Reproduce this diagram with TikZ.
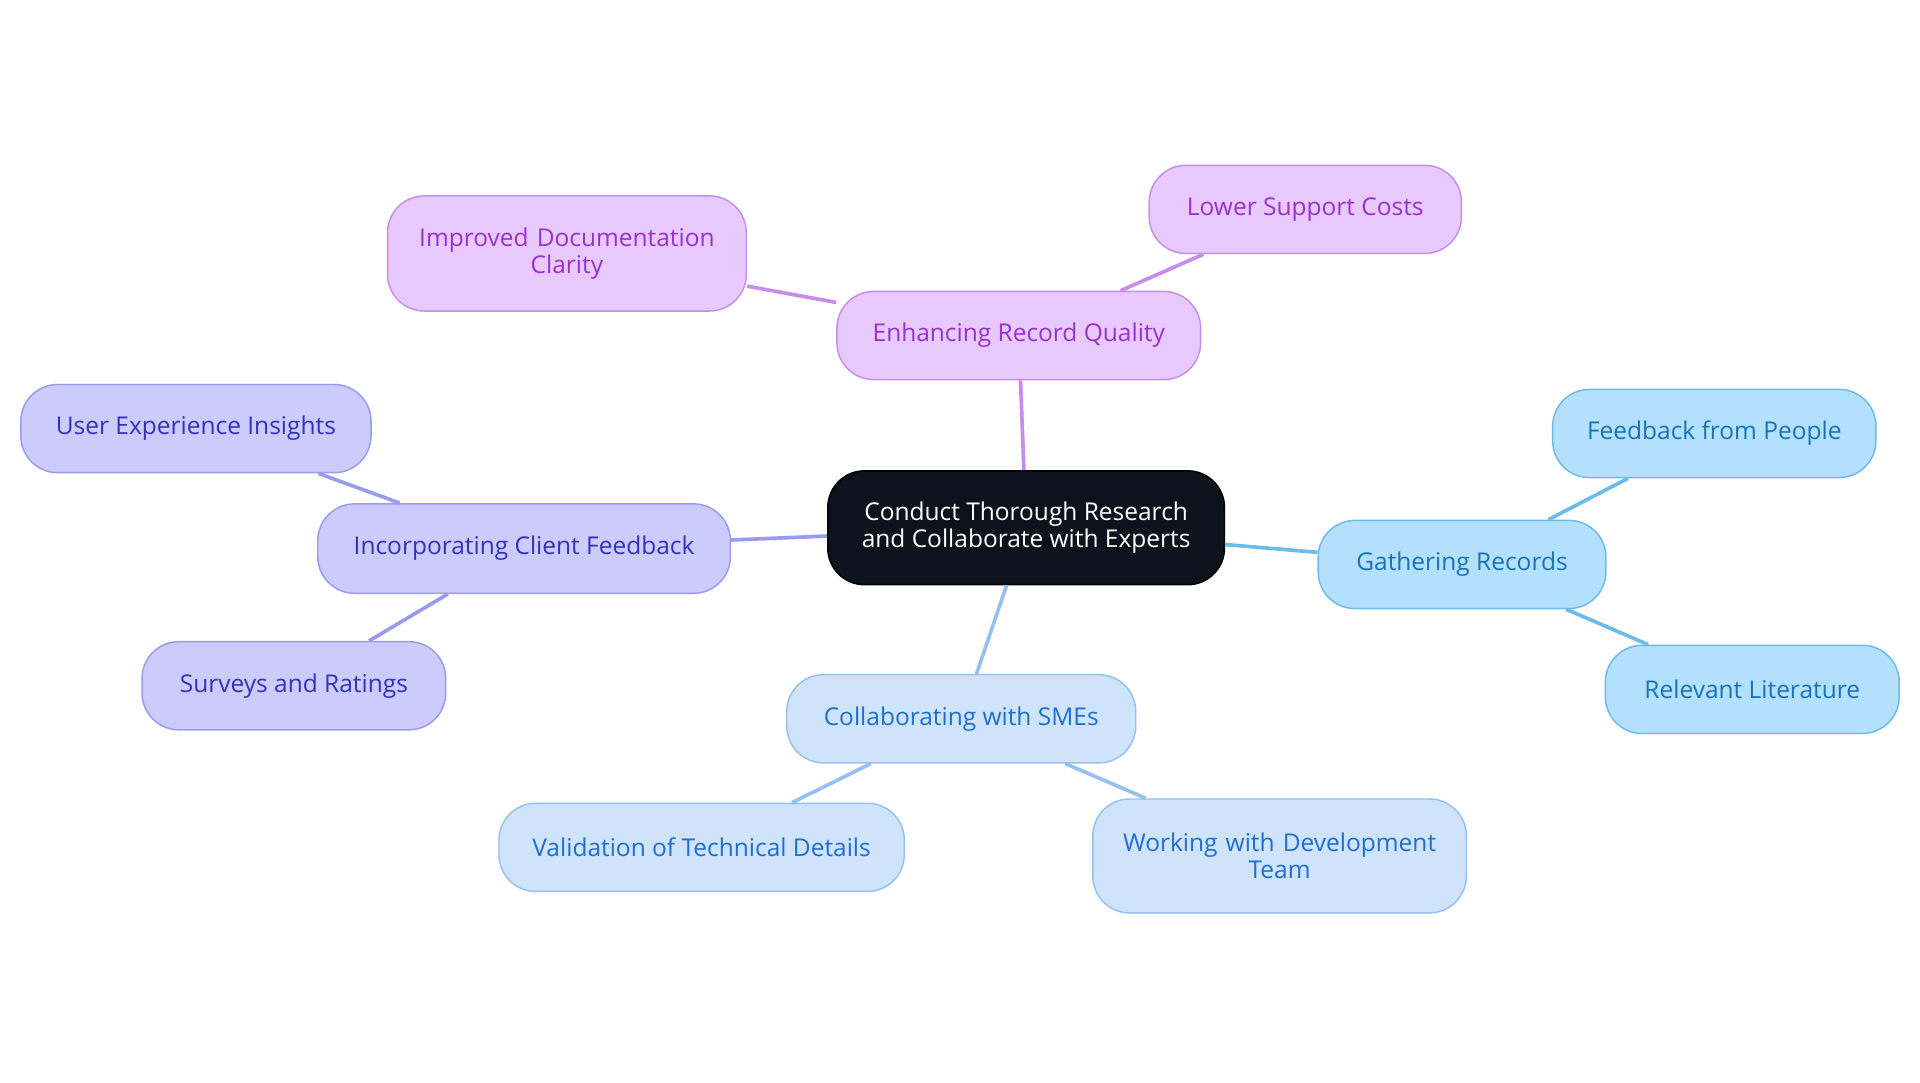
\documentclass[tikz,border=0pt]{standalone}
\usepackage{fontspec}
\setmainfont{Open Sans}
\begin{document}
\begin{tikzpicture}[x=0.5pt,y=-0.5pt,
 box/.style={rounded corners=15pt,draw,line width=0.6pt,align=center,font=\fontsize{10}{11}\selectfont,inner sep=0pt},
 pu/.style={box,fill=pfill,draw=pdraw,text=ptext},
 vi/.style={box,fill=vfill,draw=vdraw,text=vtext},
 cy/.style={box,fill=cfill,draw=cdraw,text=ctext},
 bl/.style={box,fill=bfill,draw=bdraw,text=btext},
 ln/.style={line width=1.5pt}]
\definecolor{pfill}{HTML}{E8C9FD}\definecolor{pdraw}{HTML}{C68DEB}\definecolor{ptext}{HTML}{9A30D0}
\definecolor{vfill}{HTML}{CBCBFC}\definecolor{vdraw}{HTML}{9A9AEE}\definecolor{vtext}{HTML}{3333BB}
\definecolor{cfill}{HTML}{B3E0FC}\definecolor{cdraw}{HTML}{6BBBEB}\definecolor{ctext}{HTML}{1A73B8}
\definecolor{bfill}{HTML}{CFE3FB}\definecolor{bdraw}{HTML}{94C1F0}\definecolor{btext}{HTML}{1F6FD0}
\useasboundingbox (0,0) rectangle (1568,884);
\node[box,fill={rgb,255:red,13;green,19;blue,28},text=white,minimum width=162pt,minimum height=46.5pt] (c) at (838,431) {Conduct Thorough Research\\and Collaborate with Experts};
\node[pu,minimum width=148.5pt,minimum height=36pt] (e) at (832,274) {Enhancing Record Quality};
\node[pu,minimum width=146.5pt,minimum height=47pt,text width=130pt] (e1) at (463,207) {Improved Documentation\\Clarity};
\node[pu,minimum width=127.5pt,minimum height=36pt] (e2) at (1066,171) {Lower Support Costs};
\node[vi,minimum width=168.5pt,minimum height=36.5pt] (i) at (428,448) {Incorporating Client Feedback};
\node[vi,minimum width=143pt,minimum height=36pt] (i1) at (160,350) {User Experience Insights};
\node[vi,minimum width=124pt,minimum height=36pt] (i2) at (240,560) {Surveys and Ratings};
\node[cy,minimum width=117.5pt,minimum height=36pt] (g) at (1194,461) {Gathering Records};
\node[cy,minimum width=132pt,minimum height=36pt] (g1) at (1400,354) {Feedback from People};
\node[cy,minimum width=120pt,minimum height=36pt] (g2) at (1431,563) {Relevant Literature};
\node[bl,minimum width=142.5pt,minimum height=36pt] (s) at (785,587) {Collaborating with SMEs};
\node[bl,minimum width=165.5pt,minimum height=36pt] (s1) at (573,692) {Validation of Technical Details};
\node[bl,minimum width=152.5pt,minimum height=46.5pt,text width=140pt] (s2) at (1045,699) {Working with Development\\Team};
\draw[ln,draw=pdraw] (c) -- (e); \draw[ln,draw=pdraw] (e) -- (e1); \draw[ln,draw=pdraw] (e) -- (e2);
\draw[ln,draw=vdraw] (c) -- (i); \draw[ln,draw=vdraw] (i) -- (i1); \draw[ln,draw=vdraw] (i) -- (i2);
\draw[ln,draw=cdraw] (c) -- (g); \draw[ln,draw=cdraw] (g) -- (g1); \draw[ln,draw=cdraw] (g) -- (g2);
\draw[ln,draw=bdraw] (c) -- (s); \draw[ln,draw=bdraw] (s) -- (s1); \draw[ln,draw=bdraw] (s) -- (s2);
\end{tikzpicture}
\end{document}
